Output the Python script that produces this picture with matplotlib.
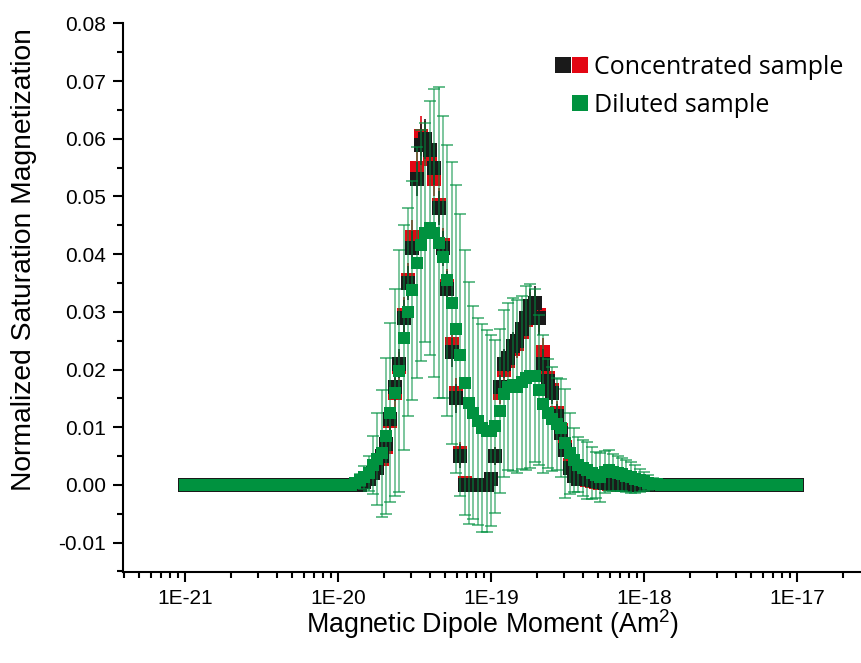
import numpy as np
import matplotlib.pyplot as plt
from matplotlib.lines import Line2D
from matplotlib.legend_handler import HandlerTuple
from matplotlib.ticker import FixedLocator, FuncFormatter, MultipleLocator, NullFormatter

plt.rcParams['font.family'] = ['Liberation Sans', 'DejaVu Sans']
plt.rcParams['mathtext.fontset'] = 'custom'
plt.rcParams['mathtext.rm'] = 'Liberation Sans'
plt.rcParams['mathtext.it'] = 'Liberation Sans:italic'

# magnetic moment grid, 35 points per decade from 1E-21 to 1E-17
moment = np.logspace(-21, -17, 141)
lead = [0.0] * 38
tail = [0.0] * 31

# concentrated sample, run 1 (black)
conc_black = lead + [
    0.0, 0.0, 0.0, 0.0005, 0.001, 0.002, 0.003, 0.005, 0.007, 0.0115,
    0.017, 0.021, 0.029, 0.035, 0.041, 0.053, 0.059, 0.060, 0.058, 0.055,
    0.048, 0.041, 0.034, 0.023, 0.015, 0.005, 0.0, 0.0, 0.0, 0.0,
    0.0, 0.0, 0.001, 0.005, 0.017, 0.021, 0.022, 0.024, 0.025, 0.027,
    0.029, 0.031, 0.0315, 0.029, 0.021, 0.018, 0.016, 0.012, 0.009, 0.006,
    0.003, 0.0015, 0.001, 0.001, 0.001, 0.0008, 0.0006, 0.0005, 0.0004, 0.0003,
    0.0002, 0.0001, 0.0, 0.0, 0.0, 0.0, 0.0, 0.0, 0.0, 0.0, 0.0, 0.0,
] + tail

# concentrated sample, run 2 (red)
conc_red = lead + [
    0.0, 0.0, 0.0, 0.0005, 0.001, 0.002, 0.003, 0.0045, 0.0065, 0.011,
    0.016, 0.0205, 0.0295, 0.0355, 0.043, 0.055, 0.0605, 0.0595, 0.0565, 0.053,
    0.0485, 0.0415, 0.0345, 0.0245, 0.016, 0.0055, 0.0003, 0.0, 0.0, 0.0,
    0.0, 0.0, 0.001, 0.005, 0.016, 0.020, 0.0215, 0.0235, 0.0245, 0.0265,
    0.0285, 0.0305, 0.031, 0.0295, 0.023, 0.0185, 0.0165, 0.0125, 0.0095, 0.0065,
    0.0035, 0.0018, 0.001, 0.001, 0.0008, 0.0006, 0.0005, 0.0004, 0.0003, 0.0002,
    0.0001, 0.0, 0.0, 0.0, 0.0, 0.0, 0.0, 0.0, 0.0, 0.0, 0.0, 0.0,
] + tail

conc_err = lead + [
    0.0, 0.0, 0.0, 0.0005, 0.001, 0.001, 0.0015, 0.0015, 0.002, 0.002,
    0.0025, 0.0025, 0.003, 0.003, 0.003, 0.003, 0.0035, 0.0035, 0.003, 0.003,
    0.003, 0.003, 0.003, 0.0025, 0.0025, 0.002, 0.001, 0.0005, 0.0005, 0.0005,
    0.0005, 0.0005, 0.001, 0.0015, 0.002, 0.0025, 0.0025, 0.0025, 0.0025, 0.0025,
    0.0025, 0.003, 0.003, 0.003, 0.0025, 0.0025, 0.002, 0.002, 0.0015, 0.0015,
    0.001, 0.001, 0.0008, 0.0008, 0.0008, 0.0006, 0.0006, 0.0005, 0.0005, 0.0004,
    0.0003, 0.0002, 0.0, 0.0, 0.0, 0.0, 0.0, 0.0, 0.0, 0.0, 0.0, 0.0,
] + tail

# diluted sample (green)
dil = lead + [
    0.0, 0.0003, 0.0008, 0.0013, 0.002, 0.0035, 0.0045, 0.0055, 0.0085, 0.0125,
    0.016, 0.0198, 0.0255, 0.030, 0.0337, 0.0385, 0.0415, 0.0437, 0.0445, 0.0437,
    0.042, 0.0395, 0.0355, 0.0315, 0.027, 0.0225, 0.0177, 0.0142, 0.0125, 0.011,
    0.0099, 0.0094, 0.0094, 0.0102, 0.0128, 0.0158, 0.017, 0.0174, 0.017, 0.0178,
    0.0185, 0.0189, 0.0189, 0.0165, 0.014, 0.0124, 0.0114, 0.0106, 0.0099, 0.0072,
    0.0055, 0.0043, 0.0035, 0.0029, 0.0025, 0.0021, 0.0017, 0.0013, 0.0022, 0.0025,
    0.0022, 0.002, 0.0018, 0.0015, 0.0013, 0.001, 0.0008, 0.0006, 0.0004, 0.0002, 0.0001, 0.0,
] + tail

dil_err = lead + [
    0.0, 0.0005, 0.001, 0.002, 0.003, 0.005, 0.008, 0.011, 0.0135, 0.0155,
    0.018, 0.021, 0.0195, 0.018, 0.019, 0.020, 0.020, 0.019, 0.022, 0.025,
    0.027, 0.0245, 0.0235, 0.0245, 0.025, 0.0245, 0.023, 0.021, 0.0185, 0.018,
    0.018, 0.0175, 0.0165, 0.015, 0.0142, 0.0145, 0.0145, 0.015, 0.015, 0.015,
    0.016, 0.016, 0.015, 0.013, 0.012, 0.0095, 0.009, 0.008, 0.0085, 0.0095,
    0.007, 0.0055, 0.0048, 0.0048, 0.005, 0.0045, 0.004, 0.0042, 0.0036, 0.0035,
    0.0032, 0.003, 0.0029, 0.0028, 0.0027, 0.0024, 0.002, 0.0017, 0.0013, 0.001, 0.0006, 0.0003,
] + tail

decades = [1e-21, 1e-20, 1e-19, 1e-18, 1e-17]

black = '#1a1a1a'
red = '#e30613'
green = '#00923f'

fig = plt.figure(figsize=(8.62, 6.63), dpi=100)
ax = fig.add_axes([0.1427, 0.1373, 0.8573, 0.8274])

ax.errorbar(moment, conc_red, yerr=conc_err, fmt='s', color=red, ms=9.8, mew=0,
            ecolor=red, elinewidth=1.2, capsize=3.6, capthick=1.6, zorder=2)
ax.errorbar(moment, conc_black, yerr=conc_err, fmt='s', color=black, ms=9.6, mew=0,
            ecolor=black, elinewidth=1.2, capsize=3.6, capthick=1.6, zorder=3)
ax.errorbar(moment, dil, yerr=dil_err, fmt='none', ecolor=(0.0, 0.57, 0.25, 0.65),
            elinewidth=1.1, capsize=4.0, capthick=1.3, zorder=4)
ax.plot(moment, dil, 's', color=green, ms=9.2, mew=0, zorder=5)

ax.set_xscale('log')
ax.set_xlim(10 ** -21.405, 10 ** -16.575)
ax.set_ylim(-0.0151, 0.08)

ax.xaxis.set_major_locator(FixedLocator(decades))
ax.xaxis.set_minor_locator(FixedLocator([m * d for d in [1e-22] + decades for m in range(2, 10)]))
ax.xaxis.set_major_formatter(FuncFormatter(lambda v, p: '1E%d' % round(np.log10(v))))
ax.xaxis.set_minor_formatter(NullFormatter())
ax.yaxis.set_major_locator(MultipleLocator(0.01))
ax.yaxis.set_minor_locator(MultipleLocator(0.005))
ax.yaxis.set_major_formatter(FuncFormatter(lambda v, p: '%.2f' % (round(v, 3) + 0.0)))

for s in ['top', 'right']:
    ax.spines[s].set_visible(False)
for s in ['left', 'bottom']:
    ax.spines[s].set_linewidth(1.5)
ax.tick_params(which='major', direction='out', length=7.5, width=1.5, labelsize=15, pad=5)
ax.tick_params(which='minor', direction='out', length=4, width=1.5)

ax.set_xlabel('Magnetic Dipole Moment (Am$^2$)', fontsize=19.3)
ax.set_ylabel('Normalized Saturation Magnetization', fontsize=20.3)
ax.xaxis.set_label_coords(0.5, -0.064)
ax.yaxis.set_label_coords(-0.1164, 0.569)

h_black = Line2D([], [], ls='none', marker='s', ms=11, color=black, mew=0)
h_red = Line2D([], [], ls='none', marker='s', ms=11, color=red, mew=0)
h_green = Line2D([], [], ls='none', marker='s', ms=11, color=green, mew=0)
h_blank = Line2D([], [], ls='none', marker='s', ms=11, color='none', mew=0)
ax.legend([(h_black, h_red), (h_blank, h_green)], ['Concentrated sample', 'Diluted sample'],
          handler_map={tuple: HandlerTuple(ndivide=None, pad=0.0)},
          loc='upper left', bbox_to_anchor=(555 / 862, 1 - 55 / 663),
          bbox_transform=fig.transFigure, frameon=False,
          prop={'family': 'Open Sans', 'size': 18}, handlelength=1.36,
          handletextpad=0.2, labelspacing=0.52, borderpad=0, borderaxespad=0)

fig.savefig('out.png', dpi=100)
